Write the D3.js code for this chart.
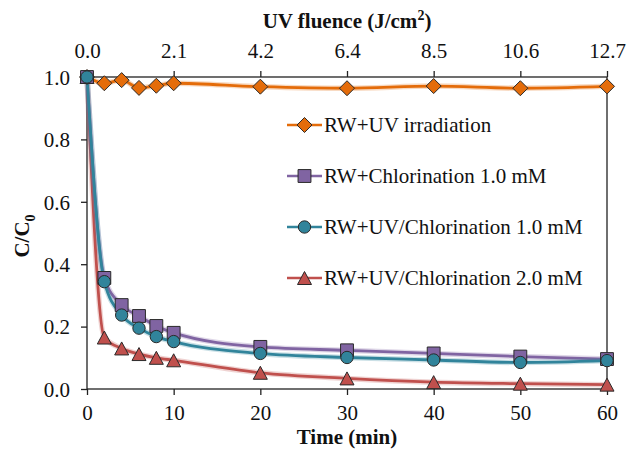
<!DOCTYPE html>
<html>
<head>
<meta charset="utf-8">
<script src="https://cdn.jsdelivr.net/npm/d3@7"></script>
<style>
  body { margin: 0; background: #fff; }
  text { font-family: "Liberation Serif", "Times New Roman", serif; fill: #111; }
</style>
</head>
<body>
<script>
'use strict';

// time points (min) shared by every series
const times = [0, 2, 4, 6, 8, 10, 20, 30, 40, 50, 60];

// C/C0 for each treatment
const uvIrradiation = [1.0, 0.98, 0.99, 0.965, 0.972, 0.98, 0.969, 0.964, 0.971, 0.964, 0.97];
const chlorination1 = [1.0, 0.356, 0.269, 0.234, 0.202, 0.18, 0.135, 0.124, 0.114, 0.104, 0.096];
const uvChlorination1 = [1.0, 0.344, 0.237, 0.195, 0.168, 0.152, 0.114, 0.101, 0.093, 0.085, 0.091];
const uvChlorination2 = [1.0, 0.165, 0.13, 0.112, 0.1, 0.092, 0.052, 0.034, 0.022, 0.017, 0.014];

const seriesNames = ["RW+UV irradiation", "RW+Chlorination 1.0 mM",
  "RW+UV/Chlorination 1.0 mM", "RW+UV/Chlorination 2.0 mM"];

// tick labels
const timeTicks = [0, 10, 20, 30, 40, 50, 60];
const fluenceLabels = ["0.0", "2.1", "4.2", "6.4", "8.5", "10.6", "12.7"];
const yTicks = [0, 0.2, 0.4, 0.6, 0.8, 1.0];

(function() {

  const width = 627, height = 450;
  const left = 87, right = 607, top = 77, bottom = 389;

  let svg = d3.select('body').append('svg')
    .attr('width', width)
    .attr('height', height);

  let xScale = d3.scaleLinear().domain([0, 60]).range([left, right]);
  let yScale = d3.scaleLinear().domain([0, 1]).range([bottom, top]);

  // series styles: colour + marker (drawn in this order)
  let series = [
    { name: seriesNames[0], values: uvIrradiation, color: "#E46C0A", shape: "diamond" },
    { name: seriesNames[3], values: uvChlorination2, color: "#C0504D", shape: "triangle" },
    { name: seriesNames[1], values: chlorination1, color: "#8064A2", shape: "square" },
    { name: seriesNames[2], values: uvChlorination1, color: "#31849B", shape: "circle" }
  ];

  // marker outlines, centred on their bounding box like the spreadsheet does
  function symbolPath(shape) {
    if (shape === "diamond") return "M0,-7.5L7.5,0L0,7.5L-7.5,0Z";
    if (shape === "square") return d3.symbol().type(d3.symbolSquare).size(165)();
    if (shape === "circle") return d3.symbol().type(d3.symbolCircle).size(120)();
    return "M0,-6.5L7,6.5L-7,6.5Z";
  }

  // axes frame
  let axisColor = "#222";
  let bottomAxis = d3.axisBottom(xScale).tickValues(timeTicks).tickSize(6).tickFormat(d3.format('d'));
  let gb = svg.append('g').attr('transform', `translate(0,${bottom})`).call(bottomAxis);

  let topAxis = d3.axisTop(xScale).tickValues(timeTicks).tickSize(6)
    .tickFormat((d, i) => fluenceLabels[i]);
  let gt = svg.append('g').attr('transform', `translate(0,${top})`).call(topAxis);

  let leftAxis = d3.axisLeft(yScale).tickValues(yTicks).tickSize(6).tickFormat(d3.format('.1f'));
  let gl = svg.append('g').attr('transform', `translate(${left},0)`).call(leftAxis);

  [gb, gt, gl].forEach((g) => {
    g.select('.domain').remove();
    g.selectAll('line').attr('stroke', axisColor).attr('stroke-width', 1.3);
    g.selectAll('text')
      .style('font-family', '"Liberation Serif", serif')
      .style('font-size', '21px')
      .attr('fill', '#111');
  });
  gb.selectAll('text').attr('dy', null).attr('y', 31);
  gt.selectAll('text').attr('y', -19);
  gl.selectAll('text').attr('x', -17).attr('dy', '0.35em');

  // plot border
  svg.append('rect')
    .attr('x', left).attr('y', top)
    .attr('width', right - left).attr('height', bottom - top)
    .attr('fill', 'none')
    .attr('stroke', axisColor)
    .attr('stroke-width', 1.3);

  // smoothed lines
  let line = d3.line()
    .x((d) => xScale(d[0]))
    .y((d) => yScale(d[1]))
    .curve(d3.curveMonotoneX);

  series.forEach((s) => {
    let pts = times.map((t, i) => [t, s.values[i]]);
    // soft halo under each line
    svg.append('path').datum(pts)
      .attr('d', line).attr('fill', 'none')
      .attr('stroke', s.color).attr('stroke-opacity', 0.25)
      .attr('stroke-width', 5.5);
    svg.append('path').datum(pts)
      .attr('d', line).attr('fill', 'none')
      .attr('stroke', s.color)
      .attr('stroke-width', 2.8);
  });

  series.forEach((s) => {
    let pts = times.map((t, i) => [t, s.values[i]]);
    svg.append('g').selectAll('path')
      .data(pts)
      .enter()
      .append('path')
        .attr('d', symbolPath(s.shape))
        .attr('transform', (d) => `translate(${xScale(d[0])},${yScale(d[1])})`)
        .attr('fill', s.color)
        .attr('stroke', '#2a2a2a')
        .attr('stroke-width', 1);
  });

  // legend
  let legendOrder = [series[0], series[2], series[3], series[1]];
  let legend = svg.append('g');
  legendOrder.forEach((s, i) => {
    let y = 125 + i * 51;
    legend.append('line')
      .attr('x1', 287).attr('x2', 322)
      .attr('y1', y).attr('y2', y)
      .attr('stroke', s.color).attr('stroke-width', 2.5);
    legend.append('path')
      .attr('d', symbolPath(s.shape))
      .attr('transform', `translate(304.5,${y})`)
      .attr('fill', s.color)
      .attr('stroke', '#2a2a2a')
      .attr('stroke-width', 1);
    legend.append('text')
      .attr('x', 324).attr('y', y)
      .attr('dy', '0.35em')
      .style('font-size', '21px')
      .text(s.name);
  });

  // axis titles
  let topTitle = svg.append('text')
    .attr('x', 347).attr('y', 28)
    .attr('text-anchor', 'middle')
    .style('font-size', '21px')
    .style('font-weight', 'bold');
  topTitle.append('tspan').text('UV fluence (J/cm');
  topTitle.append('tspan').attr('dy', -8).style('font-size', '14px').text('2');
  topTitle.append('tspan').attr('dy', 8).text(')');

  svg.append('text')
    .attr('x', 347).attr('y', 444)
    .attr('text-anchor', 'middle')
    .style('font-size', '21px')
    .style('font-weight', 'bold')
    .text('Time (min)');

  let yTitle = svg.append('text')
    .attr('transform', 'translate(29,236) rotate(-90)')
    .attr('text-anchor', 'middle')
    .style('font-size', '21px')
    .style('font-weight', 'bold');
  yTitle.append('tspan').text('C/C');
  yTitle.append('tspan').attr('dy', 6).style('font-size', '14px').text('0');

})();
</script>
</body>
</html>
